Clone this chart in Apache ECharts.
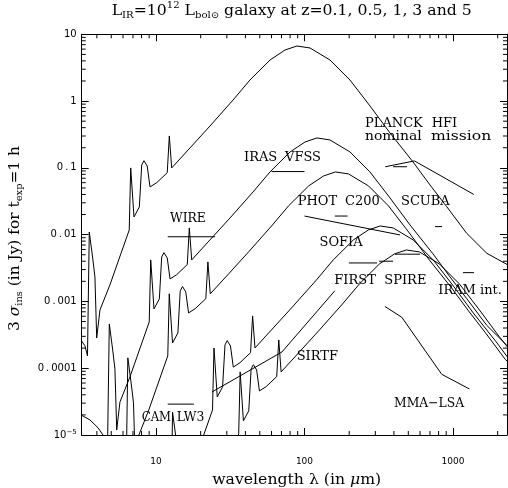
<!DOCTYPE html>
<html><head><meta charset="utf-8">
<script src="https://cdn.jsdelivr.net/npm/echarts@6/dist/echarts.min.js"></script>
<style>html,body{margin:0;padding:0;background:#fff}#c{width:508px;height:488px}</style>
</head><body><div id="c"></div>
<script>
// ---- galaxy SEDs [wavelength um, flux Jy] ----
const galaxyZ01 = [[2.985,3.05e-4],[3.327,2.16e-4],[3.459,1.53e-4],[3.556,0.01096],[3.750,4.48e-3],[3.882,2.33e-3],[3.990,2.84e-4],[4.198,7.46e-4],[4.898,1.77e-3],[6.607,0.01175],[6.761,0.0998],[7.112,0.0184],[7.727,0.0260],[8.017,0.1104],[8.299,0.128],[8.730,0.1067],[9.120,0.0518],[10.12,0.060],[11.91,0.0847],[12.30,0.3006],[12.76,0.0998],[16.94,0.1986],[23.12,0.4236],[33.04,1.038],[42.95,2.07],[58.61,4.12],[73.96,5.82],[88.92,6.68],[108.9,6.24],[148.6,4.12],[202.3,2.07],[276.1,0.845],[376.7,0.333],[538.3,0.1225],[699.8,0.0555],[907.8,0.0262],[1236,0.0105],[1687,5.27e-3],[2344,3.52e-3]];
const galaxyZ05 = [[3.124,2.00e-5],[3.596,1.68e-5],[4.072,1.28e-5],[4.537,9.06e-6],[4.718,6.41e-6],[4.851,4.60e-4],[5.113,1.88e-4],[5.293,9.77e-5],[5.441,1.19e-5],[5.723,3.13e-5],[6.679,7.41e-5],[9.009,4.93e-4],[9.220,4.19e-3],[9.698,7.73e-4],[10.54,1.09e-3],[10.93,4.63e-3],[11.32,5.38e-3],[11.91,4.48e-3],[12.44,2.17e-3],[13.80,2.52e-3],[16.25,3.56e-3],[16.77,0.01262],[17.41,4.19e-3],[23.10,8.34e-3],[31.53,0.01778],[45.06,0.0436],[58.58,0.0869],[79.93,0.1730],[100.9,0.2443],[121.3,0.2805],[148.5,0.2618],[202.6,0.1730],[275.9,0.0869],[376.5,0.0355],[513.6,0.01396],[734.0,5.14e-3],[954.3,2.33e-3],[1238,1.10e-3],[1685,4.41e-4],[2300,2.21e-4],[3197,1.48e-4]];
const galaxyZ1 = [[4.165,6.19e-6],[4.793,5.21e-6],[5.428,3.96e-6],[6.048,2.81e-6],[6.289,1.99e-6],[6.465,1.43e-4],[6.818,5.82e-5],[7.058,3.03e-5],[7.255,3.70e-6],[7.630,9.70e-6],[8.904,2.30e-5],[12.01,1.53e-4],[12.29,1.30e-3],[12.93,2.39e-4],[14.05,3.38e-4],[14.57,1.44e-3],[15.09,1.67e-3],[15.87,1.39e-3],[16.58,6.73e-4],[18.39,7.80e-4],[21.66,1.10e-3],[22.37,3.91e-3],[23.21,1.30e-3],[30.81,2.58e-3],[42.03,5.51e-3],[60.05,0.01349],[78.07,0.02692],[106.6,0.0536],[134.5,0.0757],[161.7,0.0869],[198.0,0.0811],[270.2,0.0536],[367.9,0.02692],[501.9,0.01099],[684.8,4.33e-3],[978.6,1.59e-3],[1272,7.21e-4],[1651,3.41e-4],[2247,1.36e-4],[3067,6.85e-5]];
const galaxyZ3 = [[12.10,4.36e-7],[12.58,3.08e-7],[12.93,2.21e-5],[13.64,9.04e-6],[14.12,4.70e-6],[14.51,5.74e-7],[15.27,1.51e-6],[17.81,3.56e-6],[24.03,2.37e-5],[24.59,2.01e-4],[25.86,3.72e-5],[28.10,5.25e-5],[29.16,2.23e-4],[30.18,2.59e-4],[31.75,2.15e-4],[33.17,1.04e-4],[36.79,1.21e-4],[43.33,1.71e-4],[44.75,6.07e-4],[46.42,2.01e-4],[61.62,4.01e-4],[84.08,8.55e-4],[120.2,2.09e-3],[156.2,4.18e-3],[213.2,8.32e-3],[269.0,0.01175],[323.4,0.01349],[396.0,0.01259],[540.3,8.32e-3],[735.8,4.18e-3],[1004,1.71e-3],[1370,6.71e-4],[1957,2.47e-4],[2545,1.12e-4]];
const galaxyZ5 = [[18.87,1.35e-7],[19.40,9.68e-6],[20.46,3.95e-6],[21.18,2.06e-6],[21.77,2.51e-7],[22.90,6.59e-7],[26.72,1.56e-6],[36.06,1.04e-5],[36.89,8.81e-5],[38.80,1.63e-5],[42.15,2.30e-5],[43.73,9.75e-5],[45.28,1.13e-4],[47.62,9.42e-5],[49.75,4.57e-5],[55.20,5.30e-5],[65.00,7.48e-5],[67.13,2.65e-4],[69.63,8.81e-5],[92.43,1.75e-4],[126.1,3.74e-4],[180.3,9.16e-4],[234.4,1.83e-3],[319.7,3.64e-3],[403.5,5.14e-3],[485.1,5.90e-3],[594.0,5.51e-3],[810.5,3.64e-3],[1104,1.83e-3],[1506,7.46e-4],[2055,2.94e-4],[2937,1.08e-4]];

// ---- instrument sensitivities [wavelength um, 3 sigma Jy] ----
const irasVFSS = [[60,0.088],[100,0.088]];
const wire = [[12,0.0093],[25,0.0093]];
const camLW3 = [[12,2.9e-5],[18,2.9e-5]];
const photC200 = [[160,0.019],[195,0.019]];
const sofia = [[100,0.019],[440,0.0099]];
const planckHFI = [[350,0.104],[550,0.127],[1380,0.040]];
const scuba450 = [[395,0.104],[490,0.104]];
const scuba850 = [[757,0.0132],[843,0.0132]];
const iramInt = [[1167,0.0027],[1384,0.0027]];
const spire250 = [[199,0.00377],[308,0.00377]];
const spire350 = [[318,0.0040],[395,0.0040]];
const spire500 = [[406,0.0051],[600,0.0051]];
const sirtf = [[23.8,4.4e-5],[70.5,1.75e-4],[160,1.44e-3]];
const mmaLSA = [[348,8.4e-4],[452,5.8e-4],[840,8.1e-5],[1288,4.9e-5]];

// ---- axes / ticks ----
const xMin = 3.162, xMax = 2310, yMin = 1e-5, yMax = 10;
const xTickLabels = {1:'10', 2:'100', 3:'1000'};
const yTickLabels = {'-5':'10{sup|\u22125}', '-4':'0{d|.}0001', '-3':'0{d|.}001', '-2':'0{d|.}01', '-1':'0{d|.}1', '0':'1', '1':'10'};
const xMinorTicks = [4,5,6,7,8,9,20,30,40,50,60,70,80,90,200,300,400,500,600,700,800,900,2000];
const yMinorTicks = [2e-5,3e-5,4e-5,5e-5,6e-5,7e-5,8e-5,9e-5,2e-4,3e-4,4e-4,5e-4,6e-4,7e-4,8e-4,9e-4,
  0.002,0.003,0.004,0.005,0.006,0.007,0.008,0.009,0.02,0.03,0.04,0.05,0.06,0.07,0.08,0.09,
  0.2,0.3,0.4,0.5,0.6,0.7,0.8,0.9,2,3,4,5,6,7,8,9];

const chart = echarts.init(document.getElementById('c'), null, {renderer:'canvas'});
const black = '#000';
const serif = 'DejaVu Serif';

function lineSeries(data){
  return {type:'line', data, xAxisIndex:0, yAxisIndex:0, symbol:'none', showSymbol:false,
    lineStyle:{color:black, width:1}, silent:true, animation:false, z:3};
}
const curves = [galaxyZ01, galaxyZ05, galaxyZ1, galaxyZ3, galaxyZ5,
  irasVFSS, wire, camLW3, photC200, sofia, planckHFI, scuba450, scuba850, iramInt,
  spire250, spire350, spire500, sirtf, mmaLSA];

function fmtExp(map){
  return function(v){
    const l = Math.log10(v), e = Math.round(l);
    if (Math.abs(l - e) > 1e-6) return '';
    return map[e] !== undefined ? map[e] : '';
  };
}

const axX = {type:'log', logBase:10, min:xMin, max:xMax,
  axisLine:{show:true, lineStyle:{color:black, width:1}},
  axisTick:{show:true, inside:true, length:7, lineStyle:{color:black}},
  splitLine:{show:false}, minorTick:{show:false}};
const axY = {type:'log', logBase:10, min:yMin, max:yMax,
  axisLine:{show:true, lineStyle:{color:black, width:1}},
  axisTick:{show:true, inside:true, length:7, lineStyle:{color:black}},
  splitLine:{show:false}, minorTick:{show:false}};

function minorTickSeries(){
  return [{
    type:'custom', xAxisIndex:0, yAxisIndex:0, silent:true, animation:false, clip:false, z:4,
    data: xMinorTicks.map(v => [v, yMin]),
    renderItem: (p, api) => {
      const v = api.value(0);
      const b = api.coord([v, yMin]), t = api.coord([v, yMax]);
      return {type:'group', children:[
        {type:'line', shape:{x1:b[0], y1:b[1], x2:b[0], y2:b[1]-4}, style:{stroke:black, lineWidth:1}},
        {type:'line', shape:{x1:t[0], y1:t[1], x2:t[0], y2:t[1]+4}, style:{stroke:black, lineWidth:1}}
      ]};
    }
  },{
    type:'custom', xAxisIndex:0, yAxisIndex:0, silent:true, animation:false, clip:false, z:4,
    data: yMinorTicks.map(v => [xMin, v]),
    renderItem: (p, api) => {
      const v = api.value(1);
      const l = api.coord([xMin, v]), r = api.coord([xMax, v]);
      return {type:'group', children:[
        {type:'line', shape:{x1:l[0], y1:l[1], x2:l[0]+4, y2:l[1]}, style:{stroke:black, lineWidth:1}},
        {type:'line', shape:{x1:r[0], y1:r[1], x2:r[0]-4, y2:r[1]}, style:{stroke:black, lineWidth:1}}
      ]};
    }
  }];
}

function txt(x, y, text, sx){
  return {type:'text', x, y, silent:true, z:10, scaleX: sx || 1,
    style:{text, fill:black, font:'13px "' + serif + '"', textAlign:'left', textVerticalAlign:'middle'}};
}
const subStyle = {fontFamily:serif, fontSize:9, verticalAlign:'bottom', lineHeight:19};
const supStyle = {fontFamily:serif, fontSize:9, verticalAlign:'top', lineHeight:19};

const option = {
  backgroundColor:'#fff',
  animation:false,
  grid:{left:81.7, right:1, top:34.3, bottom:53, containLabel:false},
  xAxis:[
    Object.assign({}, axX, {position:'bottom',
      axisLabel:{show:true, fontFamily:'DejaVu Sans', fontSize:9, color:black, margin:22,
        showMinLabel:false, showMaxLabel:false, formatter:fmtExp(xTickLabels)}}),
    Object.assign({}, axX, {position:'top', axisLabel:{show:false}})
  ],
  yAxis:[
    Object.assign({}, axY, {position:'left',
      axisLabel:{show:true, fontFamily:'DejaVu Sans', fontSize:10, color:black, margin:5,
        formatter:fmtExp(yTickLabels),
        rich:{sup:{fontFamily:'DejaVu Sans', fontSize:7, verticalAlign:'top', lineHeight:13},
              d:{fontFamily:'DejaVu Sans', fontSize:10, padding:[0,2,0,2]}}}}),
    Object.assign({}, axY, {position:'right', axisLabel:{show:false}})
  ],
  series: curves.map(lineSeries).concat(minorTickSeries()),
  graphic:[
    {type:'text', x:291.7, y:11, scaleX:1.12, silent:true, z:10, style:{
      text:'L{s|IR}=10{p|12} L{s|bol\u2299} galaxy at z=0.1, 0.5, 1, 3 and 5', fill:black,
      textAlign:'center', textVerticalAlign:'middle', font:'14px "'+serif+'"',
      rich:{s:subStyle, p:supStyle}}},
    {type:'text', x:296.7, y:480.5, scaleX:1.12, silent:true, z:10, style:{
      text:'wavelength \u03bb (in {i|\u03bc}m)', fill:black, textAlign:'center', textVerticalAlign:'middle',
      font:'14px "'+serif+'"', rich:{i:{fontFamily:serif, fontSize:14, fontStyle:'italic'}}}},
    {type:'text', x:15, y:238.5, rotation:Math.PI/2, scaleX:1.1, silent:true, z:10, style:{
      text:'3 {i|\u03c3}{s|ins} (in Jy) for t{s|exp}=1 h', fill:black,
      textAlign:'center', textVerticalAlign:'middle', font:'14px "'+serif+'"',
      rich:{i:{fontFamily:serif, fontSize:14, fontStyle:'italic', lineHeight:19}, s:subStyle}}},
    txt(365, 123.7, 'PLANCK'), txt(431.7, 123.7, 'HFI'),
    txt(365, 137, 'nominal', 1.07), txt(431, 137, 'mission', 1.2),
    txt(244, 157.7, 'IRAS'), txt(285, 157.7, 'VFSS'),
    txt(297.7, 202, 'PHOT'), txt(345, 202, 'C200'),
    txt(401, 202, 'SCUBA'),
    txt(319.5, 243, 'SOFIA'),
    txt(334.3, 280.5, 'FIRST'), txt(384.3, 280.5, 'SPIRE'),
    txt(438.3, 290.5, 'IRAM'), txt(480, 290.5, 'int.'),
    txt(296.7, 356.3, 'SIRTF'),
    txt(394, 403.8, 'MMA\u2212LSA', 0.95),
    txt(170, 219, 'WIRE', 0.95),
    txt(141.7, 418, 'CAM', 0.9), txt(176.7, 418, 'LW3', 0.95)
  ]
};
chart.setOption(option);
</script></body></html>
